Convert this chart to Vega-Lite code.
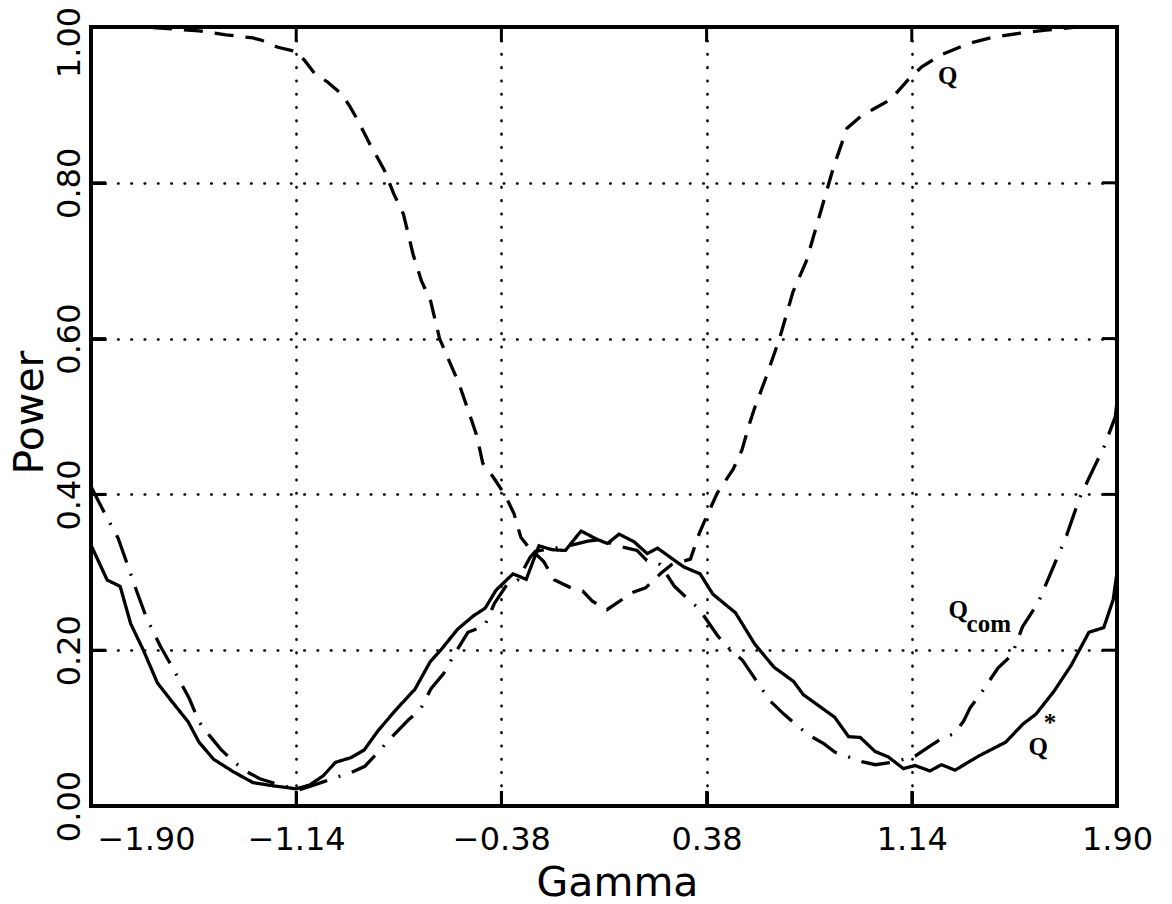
{
  "$schema": "https://vega.github.io/schema/vega-lite/v6.json",
  "width": 1026,
  "height": 779,
  "autosize": "none",
  "padding": {"left": 91, "top": 27, "right": 55, "bottom": 98},
  "background": "white",
  "config": {
    "view": {"stroke": "black", "strokeWidth": 4},
    "axis": {
      "domain": false,
      "labelFont": "DejaVu Sans",
      "labelFontSize": 32,
      "labelColor": "black",
      "titleFont": "DejaVu Sans",
      "titleFontSize": 41,
      "titleFontWeight": "normal",
      "titleColor": "black",
      "ticks": true,
      "tickColor": "black",
      "tickWidth": 3,
      "tickSize": -15,
      "tickOpacity": 1,
      "gridColor": "black",
      "gridWidth": 2.6,
      "gridDash": [0.5, 12.8],
      "gridCap": "round",
      "gridOpacity": 1
    }
  },
  "resolve": {"axis": {"x": "independent", "y": "independent"}},
  "layer": [
    {
      "data": {
        "values": [
          {"g": -1.9, "v": 1.0, "s": "Q"},
          {"g": -1.7, "v": 1.0, "s": "Q"},
          {"g": -1.5, "v": 0.995, "s": "Q"},
          {"g": -1.4, "v": 0.99, "s": "Q"},
          {"g": -1.3, "v": 0.986, "s": "Q"},
          {"g": -1.268, "v": 0.983, "s": "Q"},
          {"g": -1.208, "v": 0.974, "s": "Q"},
          {"g": -1.146, "v": 0.969, "s": "Q"},
          {"g": -1.111, "v": 0.958, "s": "Q"},
          {"g": -1.069, "v": 0.939, "s": "Q"},
          {"g": -1.026, "v": 0.93, "s": "Q"},
          {"g": -0.972, "v": 0.914, "s": "Q"},
          {"g": -0.943, "v": 0.899, "s": "Q"},
          {"g": -0.913, "v": 0.881, "s": "Q"},
          {"g": -0.866, "v": 0.849, "s": "Q"},
          {"g": -0.813, "v": 0.816, "s": "Q"},
          {"g": -0.779, "v": 0.786, "s": "Q"},
          {"g": -0.743, "v": 0.76, "s": "Q"},
          {"g": -0.707, "v": 0.708, "s": "Q"},
          {"g": -0.676, "v": 0.674, "s": "Q"},
          {"g": -0.642, "v": 0.648, "s": "Q"},
          {"g": -0.609, "v": 0.6, "s": "Q"},
          {"g": -0.572, "v": 0.57, "s": "Q"},
          {"g": -0.539, "v": 0.544, "s": "Q"},
          {"g": -0.505, "v": 0.51, "s": "Q"},
          {"g": -0.471, "v": 0.475, "s": "Q"},
          {"g": -0.449, "v": 0.44, "s": "Q"},
          {"g": -0.408, "v": 0.421, "s": "Q"},
          {"g": -0.366, "v": 0.399, "s": "Q"},
          {"g": -0.333, "v": 0.375, "s": "Q"},
          {"g": -0.308, "v": 0.345, "s": "Q"},
          {"g": -0.279, "v": 0.332, "s": "Q"},
          {"g": -0.224, "v": 0.314, "s": "Q"},
          {"g": -0.183, "v": 0.29, "s": "Q"},
          {"g": -0.128, "v": 0.281, "s": "Q"},
          {"g": -0.079, "v": 0.276, "s": "Q"},
          {"g": -0.043, "v": 0.263, "s": "Q"},
          {"g": 0.011, "v": 0.252, "s": "Q"},
          {"g": 0.054, "v": 0.262, "s": "Q"},
          {"g": 0.105, "v": 0.274, "s": "Q"},
          {"g": 0.154, "v": 0.28, "s": "Q"},
          {"g": 0.212, "v": 0.299, "s": "Q"},
          {"g": 0.251, "v": 0.31, "s": "Q"},
          {"g": 0.32, "v": 0.317, "s": "Q"},
          {"g": 0.354, "v": 0.351, "s": "Q"},
          {"g": 0.387, "v": 0.377, "s": "Q"},
          {"g": 0.42, "v": 0.402, "s": "Q"},
          {"g": 0.478, "v": 0.432, "s": "Q"},
          {"g": 0.511, "v": 0.457, "s": "Q"},
          {"g": 0.539, "v": 0.491, "s": "Q"},
          {"g": 0.557, "v": 0.51, "s": "Q"},
          {"g": 0.6, "v": 0.55, "s": "Q"},
          {"g": 0.65, "v": 0.6, "s": "Q"},
          {"g": 0.7, "v": 0.66, "s": "Q"},
          {"g": 0.75, "v": 0.7, "s": "Q"},
          {"g": 0.8, "v": 0.76, "s": "Q"},
          {"g": 0.85, "v": 0.82, "s": "Q"},
          {"g": 0.9, "v": 0.87, "s": "Q"},
          {"g": 0.95, "v": 0.885, "s": "Q"},
          {"g": 1.0, "v": 0.895, "s": "Q"},
          {"g": 1.062, "v": 0.907, "s": "Q"},
          {"g": 1.126, "v": 0.932, "s": "Q"},
          {"g": 1.177, "v": 0.949, "s": "Q"},
          {"g": 1.253, "v": 0.965, "s": "Q"},
          {"g": 1.353, "v": 0.979, "s": "Q"},
          {"g": 1.442, "v": 0.987, "s": "Q"},
          {"g": 1.541, "v": 0.992, "s": "Q"},
          {"g": 1.637, "v": 0.996, "s": "Q"},
          {"g": 1.75, "v": 1.0, "s": "Q"},
          {"g": 1.9, "v": 1.0, "s": "Q"},

          {"g": -1.9, "v": 0.41, "s": "Qcom"},
          {"g": -1.857, "v": 0.381, "s": "Qcom"},
          {"g": -1.8, "v": 0.344, "s": "Qcom"},
          {"g": -1.764, "v": 0.309, "s": "Qcom"},
          {"g": -1.73, "v": 0.275, "s": "Qcom"},
          {"g": -1.695, "v": 0.242, "s": "Qcom"},
          {"g": -1.643, "v": 0.205, "s": "Qcom"},
          {"g": -1.597, "v": 0.177, "s": "Qcom"},
          {"g": -1.536, "v": 0.138, "s": "Qcom"},
          {"g": -1.5, "v": 0.108, "s": "Qcom"},
          {"g": -1.46, "v": 0.09, "s": "Qcom"},
          {"g": -1.42, "v": 0.073, "s": "Qcom"},
          {"g": -1.372, "v": 0.057, "s": "Qcom"},
          {"g": -1.323, "v": 0.044, "s": "Qcom"},
          {"g": -1.275, "v": 0.035, "s": "Qcom"},
          {"g": -1.19, "v": 0.026, "s": "Qcom"},
          {"g": -1.128, "v": 0.021, "s": "Qcom"},
          {"g": -1.09, "v": 0.025, "s": "Qcom"},
          {"g": -1.04, "v": 0.031, "s": "Qcom"},
          {"g": -0.99, "v": 0.037, "s": "Qcom"},
          {"g": -0.935, "v": 0.043, "s": "Qcom"},
          {"g": -0.886, "v": 0.051, "s": "Qcom"},
          {"g": -0.842, "v": 0.067, "s": "Qcom"},
          {"g": -0.793, "v": 0.086, "s": "Qcom"},
          {"g": -0.723, "v": 0.111, "s": "Qcom"},
          {"g": -0.68, "v": 0.124, "s": "Qcom"},
          {"g": -0.64, "v": 0.151, "s": "Qcom"},
          {"g": -0.594, "v": 0.17, "s": "Qcom"},
          {"g": -0.557, "v": 0.193, "s": "Qcom"},
          {"g": -0.504, "v": 0.223, "s": "Qcom"},
          {"g": -0.443, "v": 0.231, "s": "Qcom"},
          {"g": -0.406, "v": 0.26, "s": "Qcom"},
          {"g": -0.358, "v": 0.285, "s": "Qcom"},
          {"g": -0.32, "v": 0.29, "s": "Qcom"},
          {"g": -0.274, "v": 0.319, "s": "Qcom"},
          {"g": -0.254, "v": 0.327, "s": "Qcom"},
          {"g": -0.2, "v": 0.33, "s": "Qcom"},
          {"g": -0.12, "v": 0.335, "s": "Qcom"},
          {"g": -0.06, "v": 0.34, "s": "Qcom"},
          {"g": -0.018, "v": 0.342, "s": "Qcom"},
          {"g": 0.074, "v": 0.332, "s": "Qcom"},
          {"g": 0.123, "v": 0.328, "s": "Qcom"},
          {"g": 0.159, "v": 0.315, "s": "Qcom"},
          {"g": 0.208, "v": 0.31, "s": "Qcom"},
          {"g": 0.261, "v": 0.282, "s": "Qcom"},
          {"g": 0.304, "v": 0.268, "s": "Qcom"},
          {"g": 0.352, "v": 0.253, "s": "Qcom"},
          {"g": 0.422, "v": 0.218, "s": "Qcom"},
          {"g": 0.469, "v": 0.2, "s": "Qcom"},
          {"g": 0.513, "v": 0.187, "s": "Qcom"},
          {"g": 0.554, "v": 0.166, "s": "Qcom"},
          {"g": 0.615, "v": 0.135, "s": "Qcom"},
          {"g": 0.666, "v": 0.118, "s": "Qcom"},
          {"g": 0.699, "v": 0.108, "s": "Qcom"},
          {"g": 0.759, "v": 0.091, "s": "Qcom"},
          {"g": 0.814, "v": 0.08, "s": "Qcom"},
          {"g": 0.856, "v": 0.069, "s": "Qcom"},
          {"g": 0.955, "v": 0.057, "s": "Qcom"},
          {"g": 1.005, "v": 0.053, "s": "Qcom"},
          {"g": 1.068, "v": 0.056, "s": "Qcom"},
          {"g": 1.152, "v": 0.064, "s": "Qcom"},
          {"g": 1.203, "v": 0.076, "s": "Qcom"},
          {"g": 1.253, "v": 0.087, "s": "Qcom"},
          {"g": 1.297, "v": 0.093, "s": "Qcom"},
          {"g": 1.332, "v": 0.109, "s": "Qcom"},
          {"g": 1.356, "v": 0.126, "s": "Qcom"},
          {"g": 1.397, "v": 0.145, "s": "Qcom"},
          {"g": 1.459, "v": 0.177, "s": "Qcom"},
          {"g": 1.511, "v": 0.194, "s": "Qcom"},
          {"g": 1.55, "v": 0.23, "s": "Qcom"},
          {"g": 1.608, "v": 0.261, "s": "Qcom"},
          {"g": 1.668, "v": 0.31, "s": "Qcom"},
          {"g": 1.714, "v": 0.348, "s": "Qcom"},
          {"g": 1.761, "v": 0.395, "s": "Qcom"},
          {"g": 1.795, "v": 0.42, "s": "Qcom"},
          {"g": 1.853, "v": 0.462, "s": "Qcom"},
          {"g": 1.894, "v": 0.5, "s": "Qcom"},
          {"g": 1.9, "v": 0.52, "s": "Qcom"},

          {"g": -1.9, "v": 0.335, "s": "Qstar"},
          {"g": -1.84, "v": 0.29, "s": "Qstar"},
          {"g": -1.792, "v": 0.282, "s": "Qstar"},
          {"g": -1.753, "v": 0.234, "s": "Qstar"},
          {"g": -1.706, "v": 0.2, "s": "Qstar"},
          {"g": -1.654, "v": 0.158, "s": "Qstar"},
          {"g": -1.6, "v": 0.134, "s": "Qstar"},
          {"g": -1.54, "v": 0.108, "s": "Qstar"},
          {"g": -1.5, "v": 0.082, "s": "Qstar"},
          {"g": -1.446, "v": 0.06, "s": "Qstar"},
          {"g": -1.373, "v": 0.044, "s": "Qstar"},
          {"g": -1.3, "v": 0.03, "s": "Qstar"},
          {"g": -1.227, "v": 0.026, "s": "Qstar"},
          {"g": -1.139, "v": 0.022, "s": "Qstar"},
          {"g": -1.09, "v": 0.027, "s": "Qstar"},
          {"g": -1.039, "v": 0.039, "s": "Qstar"},
          {"g": -0.995, "v": 0.056, "s": "Qstar"},
          {"g": -0.938, "v": 0.062, "s": "Qstar"},
          {"g": -0.888, "v": 0.072, "s": "Qstar"},
          {"g": -0.836, "v": 0.097, "s": "Qstar"},
          {"g": -0.772, "v": 0.123, "s": "Qstar"},
          {"g": -0.7, "v": 0.15, "s": "Qstar"},
          {"g": -0.644, "v": 0.185, "s": "Qstar"},
          {"g": -0.605, "v": 0.2, "s": "Qstar"},
          {"g": -0.542, "v": 0.227, "s": "Qstar"},
          {"g": -0.484, "v": 0.244, "s": "Qstar"},
          {"g": -0.44, "v": 0.254, "s": "Qstar"},
          {"g": -0.4, "v": 0.277, "s": "Qstar"},
          {"g": -0.337, "v": 0.298, "s": "Qstar"},
          {"g": -0.288, "v": 0.291, "s": "Qstar"},
          {"g": -0.241, "v": 0.334, "s": "Qstar"},
          {"g": -0.192, "v": 0.329, "s": "Qstar"},
          {"g": -0.143, "v": 0.328, "s": "Qstar"},
          {"g": -0.085, "v": 0.353, "s": "Qstar"},
          {"g": -0.024, "v": 0.342, "s": "Qstar"},
          {"g": 0.013, "v": 0.337, "s": "Qstar"},
          {"g": 0.056, "v": 0.349, "s": "Qstar"},
          {"g": 0.112, "v": 0.339, "s": "Qstar"},
          {"g": 0.16, "v": 0.324, "s": "Qstar"},
          {"g": 0.198, "v": 0.331, "s": "Qstar"},
          {"g": 0.295, "v": 0.307, "s": "Qstar"},
          {"g": 0.356, "v": 0.298, "s": "Qstar"},
          {"g": 0.403, "v": 0.272, "s": "Qstar"},
          {"g": 0.487, "v": 0.248, "s": "Qstar"},
          {"g": 0.558, "v": 0.208, "s": "Qstar"},
          {"g": 0.63, "v": 0.178, "s": "Qstar"},
          {"g": 0.702, "v": 0.16, "s": "Qstar"},
          {"g": 0.738, "v": 0.143, "s": "Qstar"},
          {"g": 0.854, "v": 0.114, "s": "Qstar"},
          {"g": 0.906, "v": 0.089, "s": "Qstar"},
          {"g": 0.949, "v": 0.088, "s": "Qstar"},
          {"g": 1.004, "v": 0.07, "s": "Qstar"},
          {"g": 1.053, "v": 0.063, "s": "Qstar"},
          {"g": 1.109, "v": 0.048, "s": "Qstar"},
          {"g": 1.152, "v": 0.052, "s": "Qstar"},
          {"g": 1.207, "v": 0.045, "s": "Qstar"},
          {"g": 1.25, "v": 0.053, "s": "Qstar"},
          {"g": 1.3, "v": 0.046, "s": "Qstar"},
          {"g": 1.387, "v": 0.064, "s": "Qstar"},
          {"g": 1.488, "v": 0.082, "s": "Qstar"},
          {"g": 1.551, "v": 0.105, "s": "Qstar"},
          {"g": 1.6, "v": 0.118, "s": "Qstar"},
          {"g": 1.666, "v": 0.147, "s": "Qstar"},
          {"g": 1.731, "v": 0.181, "s": "Qstar"},
          {"g": 1.796, "v": 0.223, "s": "Qstar"},
          {"g": 1.851, "v": 0.229, "s": "Qstar"},
          {"g": 1.886, "v": 0.265, "s": "Qstar"},
          {"g": 1.9, "v": 0.3, "s": "Qstar"}
        ]
      },
      "mark": {"type": "line", "color": "black", "strokeWidth": 3.3, "clip": true},
      "encoding": {
        "x": {
          "field": "g", "type": "quantitative",
          "scale": {"domain": [-1.9, 1.9], "nice": false, "zero": false},
          "axis": {
            "orient": "bottom",
            "title": "Gamma",
            "values": [-1.9, -1.14, -0.38, 0.38, 1.14, 1.9],
            "format": ".2f",
            "grid": true,
            "labelPadding": 33,
            "labelAlign": {"condition": {"test": "datum.value < -1.8", "value": "left"}, "value": "center"},
            "labelOffset": {"condition": {"test": "datum.value < -1.8", "value": 6}, "value": 0},
            "titleX": 526,
            "titleY": 89,
            "titleBaseline": "alphabetic",
            "titleAlign": "center"
          }
        },
        "y": {
          "field": "v", "type": "quantitative",
          "scale": {"domain": [0, 1], "nice": false},
          "axis": {
            "orient": "left",
            "title": "Power",
            "values": [0, 0.2, 0.4, 0.6, 0.8, 1.0],
            "format": ".2f",
            "grid": true,
            "labelAngle": 270,
            "labelAlign": "center",
            "labelBaseline": "alphabetic",
            "labelPadding": 27,
            "labelOffset": {"condition": {"test": "datum.value > 0.9", "value": 15}, "value": 0},
            "titleX": -49,
            "titleY": 385,
            "titleAngle": 270,
            "titleBaseline": "alphabetic",
            "titleAlign": "center"
          }
        },
        "strokeDash": {
          "field": "s", "type": "nominal",
          "scale": {"domain": ["Q", "Qcom", "Qstar"], "range": [[19, 12], [29, 12, 2, 12], [1, 0]]},
          "legend": null
        }
      }
    },
    {
      "data": {"values": [{"g": -1.14}, {"g": -0.38}, {"g": 0.38}, {"g": 1.14}]},
      "mark": {"type": "tick", "orient": "vertical", "color": "black", "size": 30, "thickness": 3, "opacity": 1, "clip": true},
      "encoding": {
        "x": {"field": "g", "type": "quantitative", "axis": null},
        "y": {"datum": 0, "type": "quantitative", "axis": null}
      }
    },
    {
      "data": {"values": [{"g": -1.14}, {"g": -0.38}, {"g": 0.38}, {"g": 1.14}]},
      "mark": {"type": "tick", "orient": "vertical", "color": "black", "size": 30, "thickness": 3, "opacity": 1, "clip": true},
      "encoding": {
        "x": {"field": "g", "type": "quantitative", "axis": null},
        "y": {"datum": 1, "type": "quantitative", "axis": null}
      }
    },
    {
      "data": {"values": [{"v": 0.2}, {"v": 0.4}, {"v": 0.6}, {"v": 0.8}]},
      "mark": {"type": "tick", "orient": "horizontal", "color": "black", "size": 30, "thickness": 3, "opacity": 1, "clip": true},
      "encoding": {
        "y": {"field": "v", "type": "quantitative", "axis": null},
        "x": {"datum": -1.9, "type": "quantitative", "axis": null}
      }
    },
    {
      "data": {"values": [{"v": 0.2}, {"v": 0.4}, {"v": 0.6}, {"v": 0.8}]},
      "mark": {"type": "tick", "orient": "horizontal", "color": "black", "size": 30, "thickness": 3, "opacity": 1, "clip": true},
      "encoding": {
        "y": {"field": "v", "type": "quantitative", "axis": null},
        "x": {"datum": 1.9, "type": "quantitative", "axis": null}
      }
    },
    {
      "data": {
        "values": [
          {"g": 1.273, "v": 0.937, "t": "Q"},
          {"g": 1.312, "v": 0.251, "t": "Q"},
          {"g": 1.608, "v": 0.076, "t": "Q"}
        ]
      },
      "mark": {"type": "text", "font": "Liberation Serif", "fontWeight": "bold", "fontSize": 25, "color": "black", "align": "center", "baseline": "middle"},
      "encoding": {
        "x": {"field": "g", "type": "quantitative", "axis": null},
        "y": {"field": "v", "type": "quantitative", "axis": null},
        "text": {"field": "t"}
      }
    },
    {
      "data": {
        "values": [
          {"g": 1.425, "v": 0.233, "t": "com"},
          {"g": 1.652, "v": 0.106, "t": "*"}
        ]
      },
      "mark": {"type": "text", "font": "Liberation Serif", "fontWeight": "bold", "fontSize": 25, "color": "black", "align": "center", "baseline": "middle"},
      "encoding": {
        "x": {"field": "g", "type": "quantitative", "axis": null},
        "y": {"field": "v", "type": "quantitative", "axis": null},
        "text": {"field": "t"}
      }
    }
  ]
}
